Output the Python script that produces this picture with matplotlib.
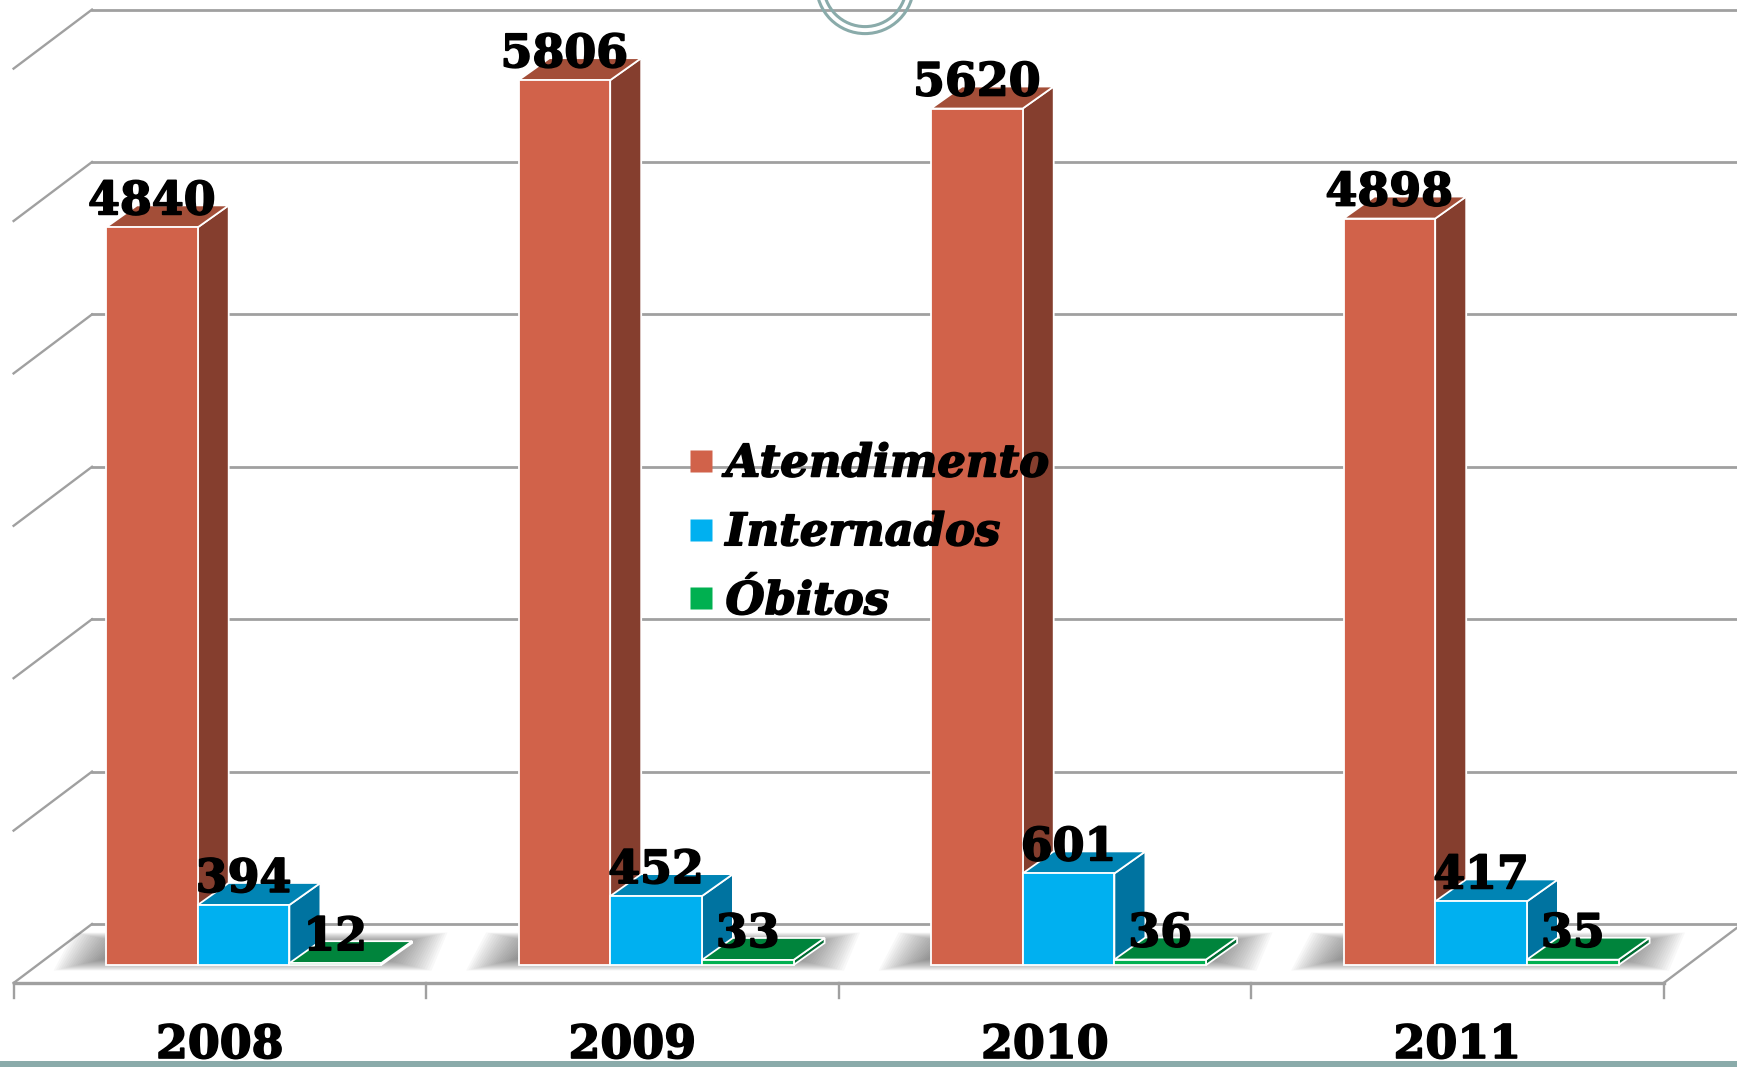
import matplotlib
matplotlib.use("Agg")
import matplotlib.pyplot as plt
import matplotlib.patheffects as pe
from matplotlib.lines import Line2D
from matplotlib.patches import Ellipse, Polygon, Rectangle

years = ["2008", "2009", "2010", "2011"]
atendimento = [4840, 5806, 5620, 4898]
internados = [394, 452, 601, 417]
obitos = [12, 33, 36, 35]
grid_values = [1000, 2000, 3000, 4000, 5000, 6000]

series = [
    ("Atendimento", atendimento, "#D1624A", "#A34E38", "#853E2E"),
    ("Internados", internados, "#00B0F0", "#0084B4", "#0073A0"),
    ("Óbitos", obitos, "#00B050", "#00843C", "#006C32"),
]

W, H = 1737, 1067
PX_X = 1 / 412.5      # category units per pixel
PX_Y = 1 / 0.1524     # value units per pixel
BASE_X = 13.6         # pixel of first tick
BASE_Y = 965          # pixel of value 0

fig = plt.figure(figsize=(W / 100, H / 100), dpi=100)
ax = fig.add_axes([0, 0, 1, 1])
ax.set_xlim(-BASE_X * PX_X, (W - BASE_X) * PX_X)
ax.set_ylim(-(H - BASE_Y) * PX_Y, BASE_Y * PX_Y)
ax.axis("off")

grid_color = "#A0A0A0"
serif = "DejaVu Serif"
heavy = [pe.withStroke(linewidth=1.2, foreground="black")]

bar_w = 91.7 * PX_X
bar_off = 92.4 * PX_X
depth_x = 31 * PX_X
depth_y = 22 * PX_Y
wall_x = 78.4 * PX_X
wall_y = 59 * PX_Y
floor_y = -18 * PX_Y
n = len(years)

# walls and floor
right = (W - BASE_X) * PX_X
for v in [0] + grid_values:
    y = floor_y + wall_y + v
    ax.plot([wall_x, right], [y, y], color=grid_color, lw=2, zorder=1)
    if v > 0:
        ax.plot([0, wall_x], [y - wall_y, y], color=grid_color, lw=1.7, zorder=1)
ax.plot([0, wall_x], [floor_y, floor_y + wall_y], color=grid_color, lw=1.7, zorder=1)
ax.plot([n, n + wall_x], [floor_y, floor_y + wall_y], color=grid_color, lw=1.7, zorder=1)
ax.plot([0, n], [floor_y, floor_y], color=grid_color, lw=2.4, zorder=1)
for i in range(n + 1):
    ax.plot([i, i], [floor_y, floor_y - 15 * PX_Y], color=grid_color, lw=1.7, zorder=1)

# soft shadow on the floor
for i in range(n):
    x0 = i + bar_off
    x1 = x0 + 3 * bar_w
    for k in range(22):
        gx = k * 2.4 * PX_X
        b = (6 - k * 0.55) * PX_Y
        t = (22 + k * 0.5) * PX_Y
        ax.add_patch(Polygon([(x0 - 2 * PX_X - gx, b), (x1 + gx, b),
                              (x1 + 16 * PX_X + gx, t), (x0 + 18 * PX_X - gx, t)],
                             facecolor="#505050", edgecolor="none", alpha=0.04, zorder=2))

# bars
for s, (name, values, front, top, side) in enumerate(series):
    for i, v in enumerate(values):
        x = i + bar_off + s * bar_w
        z = 3 + i + s * 0.1
        ax.add_patch(Polygon([(x + bar_w, 0), (x + bar_w + depth_x, depth_y),
                              (x + bar_w + depth_x, v + depth_y), (x + bar_w, v)],
                             facecolor=side, edgecolor="white", lw=1.3, zorder=z))
        ax.add_patch(Polygon([(x, v), (x + bar_w, v),
                              (x + bar_w + depth_x, v + depth_y), (x + depth_x, v + depth_y)],
                             facecolor=top, edgecolor="white", lw=1.3, zorder=z))
        ax.bar(x, v, bar_w, align="edge", color=front, edgecolor="white", lw=1.3, zorder=z)
        ax.text(x + bar_w / 2, v + 13 * PX_Y, str(v), ha="center", va="baseline", color="black",
                fontsize=33, family=serif, weight="bold", zorder=20, path_effects=heavy)

# category labels
for i, year in enumerate(years):
    ax.text(i + 0.5, -93 * PX_Y, year, ha="center", va="baseline", color="black",
            fontsize=33, family=serif, weight="bold", zorder=20, path_effects=heavy)

handles = [Line2D([], [], linestyle="none", marker="s", markersize=16,
                  markerfacecolor=c[2], markeredgecolor="none") for c in series]
leg = ax.legend(handles, [c[0] for c in series], loc="upper left",
                bbox_to_anchor=(656 / W, 1 - 420 / H), bbox_transform=fig.transFigure,
                frameon=False, handletextpad=0.05, labelspacing=0.575,
                borderpad=0, handlelength=1.0,
                prop={"family": serif, "weight": "bold", "style": "italic", "size": 32.3})
leg.set_zorder(21)
for t in leg.get_texts():
    t.set_path_effects(heavy)

# slide decoration: rings at top, band at bottom
ring = "#8AABAA"
for r in (48.6, 41.6):
    fig.add_artist(Ellipse((865 / W, 1 + 15 / H), 2 * r / W, 2 * r / H, facecolor="none",
                           edgecolor=ring, lw=2.2, transform=fig.transFigure))
fig.add_artist(Rectangle((0, 0), 1, 6 / H, facecolor=ring, edgecolor="none",
                         transform=fig.transFigure))

fig.savefig("out.png", dpi=100, facecolor="white")
